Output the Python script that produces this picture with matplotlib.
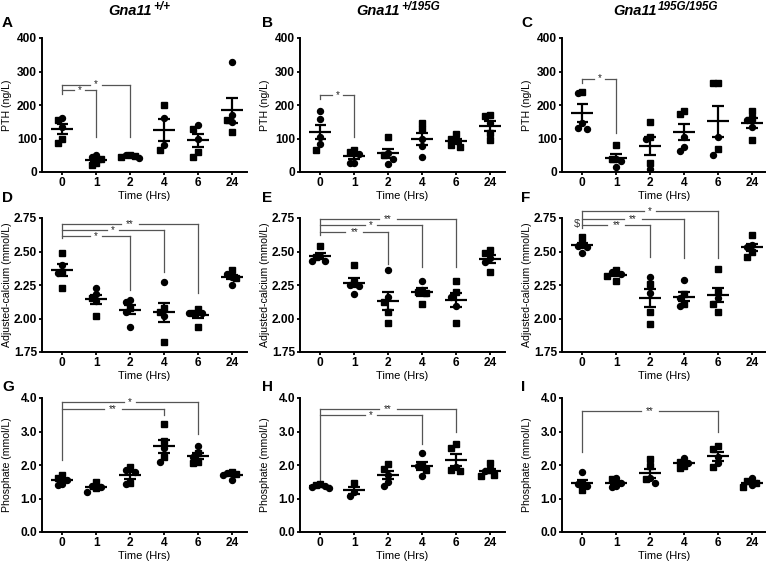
"""
Gna11 time course: PTH, adjusted calcium and phosphate after injection.
3 x 3 grid of scatter plots with mean +/- SEM (GraphPad style).
"""

import numpy as np
import matplotlib
matplotlib.use("Agg")
import matplotlib.pyplot as plt

plt.rcParams['font.family'] = ['Liberation Sans', 'DejaVu Sans']

# ── Data ──────────────────────────────────────────────────────────────────────
TIMES = ["0", "1", "2", "4", "6", "24"]
GENOTYPES = ["+/+", "+/195G", "195G/195G"]

# PTH (ng/L); squares and circles per time point
PTH_WT_SQ = [[155, 100, 87], [40, 28, 20], [50, 48, 44], [200, 65], [128, 60, 45], [155, 120]]
PTH_WT_CI = [[162, 135], [52, 45], [50, 43], [160, 80], [140, 100], [327, 170, 148]]
PTH_HET_SQ = [[67], [65, 60], [105, 50], [147, 128], [112, 100, 80, 75], [170, 168, 115, 95]]
PTH_HET_CI = [[181, 158, 105, 85], [55, 28, 27], [58, 40, 25], [100, 78, 45], [92], [145]]
PTH_HOM_SQ = [[240], [82, 38], [148, 105, 28], [182, 172], [265, 265, 68], [182, 162, 95]]
PTH_HOM_CI = [[237, 145, 130, 128], [40, 33, 14], [100, 8], [105, 75, 62], [105, 52], [155, 135]]

# Adjusted calcium (mmol/L)
CA_WT_SQ = [[2.49, 2.35, 2.23], [2.15, 2.02], [2.08], [2.075, 2.05, 1.825], [2.07, 2.04, 1.94], [2.36, 2.30]]
CA_WT_CI = [[2.40, 2.34], [2.23, 2.18, 2.13], [2.14, 2.12, 2.05, 1.94], [2.27, 2.02], [2.04, 2.04], [2.33, 2.31, 2.25]]
CA_HET_SQ = [[2.54, 2.46], [2.40, 2.27], [2.12, 2.05, 1.97], [2.20, 2.19, 2.11], [2.28, 2.20, 1.97], [2.51, 2.49, 2.35]]
CA_HET_CI = [[2.47, 2.43, 2.43], [2.25, 2.24, 2.18], [2.36, 2.16], [2.28, 2.21], [2.16, 2.09], [2.45, 2.42]]
CA_HOM_SQ = [[2.61, 2.56], [2.36, 2.32, 2.28], [2.26, 2.05, 1.96], [2.18, 2.11], [2.37, 2.20, 2.11, 2.05], [2.62, 2.50, 2.46]]
CA_HOM_CI = [[2.54, 2.53, 2.49], [2.35, 2.33], [2.31, 2.19], [2.29, 2.15, 2.09], [2.15], [2.55, 2.53]]

# Phosphate (mmol/L)
PI_WT_SQ = [[1.70, 1.62], [1.49, 1.30], [1.94, 1.45], [3.22, 2.72, 2.25], [2.35, 2.10, 2.06], [1.78, 1.74]]
PI_WT_CI = [[1.55, 1.42, 1.40], [1.38, 1.35, 1.20], [1.85, 1.80, 1.42], [2.50, 2.10], [2.58, 2.25], [1.76, 1.70, 1.55]]
PI_HET_SQ = [[1.42, 1.40], [1.45], [2.02, 1.88], [2.00, 1.85], [2.64, 2.51, 1.85, 1.82], [2.07, 1.85, 1.70, 1.68]]
PI_HET_CI = [[1.38, 1.33, 1.32], [1.20, 1.08], [1.70, 1.50, 1.36], [2.35, 1.98, 1.68], [1.95], [1.82]]
PI_HOM_SQ = [[1.45, 1.24], [1.58], [2.17, 1.96, 1.59], [2.10, 1.98, 1.92], [2.58, 2.47, 1.93], [1.52, 1.45, 1.35]]
PI_HOM_CI = [[1.79, 1.44, 1.38], [1.60, 1.45, 1.36, 1.34], [1.62, 1.45], [2.21, 2.05], [2.25, 2.05], [1.61, 1.40]]

# Significance brackets: (from idx, to idx, level, right drop to, label)
BR_A = [(0, 1, 244, 104, '*'), (0, 2, 261, 104, '*')]
BR_B = [(0, 1, 231, 105, '*')]
BR_C = [(0, 1, 279, 116, '*')]
BR_D = [(0, 2, 2.612, 2.213, '*'), (0, 3, 2.657, 2.35, '*'), (0, 4, 2.707, 2.19, '**')]
BR_E = [(0, 2, 2.645, 2.41, '**'), (0, 3, 2.695, 2.387, '*'), (0, 4, 2.745, 2.387, '**')]
BR_F = [(0, 2, 2.695, 2.462, '**'), (0, 3, 2.742, 2.45, '**'), (0, 4, 2.80, 2.45, '*')]
BR_G = [(0, 3, 3.68, 3.48, '**'), (0, 4, 3.88, 2.94, '*')]
BR_H = [(0, 3, 3.49, 2.64, '*'), (0, 4, 3.68, 2.99, '**')]
BR_I = [(0, 4, 3.60, 2.985, '**')]
# bottom of the shared left leg of the brackets
LEFT_LEG = {"A": 233, "B": 218, "C": 266, "D": 2.60, "E": 2.625, "F": 2.675,
            "G": 2.14, "H": 1.55, "I": 2.39}

# ── Layout ────────────────────────────────────────────────────────────────────
W, H = 766, 563
COL_LEFT = [42, 300, 562]
COL_WIDTH = 205
ROW_TOP = [38, 218, 398]
ROW_HEIGHT = 134

ROWS = [
    dict(ylabel="PTH (ng/L)", ylim=(0, 400), yticks=[0, 100, 200, 300, 400], fmt="{:.0f}"),
    dict(ylabel="Adjusted-calcium (mmol/L)", ylim=(1.75, 2.75),
         yticks=[1.75, 2.00, 2.25, 2.50, 2.75], fmt="{:.2f}"),
    dict(ylabel="Phosphate (mmol/L)", ylim=(0, 4), yticks=[0, 1, 2, 3, 4], fmt="{:.1f}"),
]

PANELS = [
    ("A", 0, 0, PTH_WT_SQ, PTH_WT_CI, BR_A), ("B", 0, 1, PTH_HET_SQ, PTH_HET_CI, BR_B),
    ("C", 0, 2, PTH_HOM_SQ, PTH_HOM_CI, BR_C), ("D", 1, 0, CA_WT_SQ, CA_WT_CI, BR_D),
    ("E", 1, 1, CA_HET_SQ, CA_HET_CI, BR_E), ("F", 1, 2, CA_HOM_SQ, CA_HOM_CI, BR_F),
    ("G", 2, 0, PI_WT_SQ, PI_WT_CI, BR_G), ("H", 2, 1, PI_HET_SQ, PI_HET_CI, BR_H),
    ("I", 2, 2, PI_HOM_SQ, PI_HOM_CI, BR_I),
]

BRACKET_COLOR = '#555555'


def swarm_offsets(vals, thresh, step=0.13):
    """Simple beeswarm: spread close values sideways."""
    vals = np.asarray(vals, dtype=float)
    offs = np.zeros(len(vals))
    placed = []
    cands = [0, -step, step, -2 * step, 2 * step]
    for i in np.argsort(-vals):
        for c in cands:
            if all(abs(vals[i] - v) > thresh or abs(c - o) > step * 0.9 for v, o in placed):
                offs[i] = c
                break
        placed.append((vals[i], offs[i]))
    return offs


def draw_bracket(ax, i0, i1, y, ydrop, label):
    mid = (i0 + i1) / 2
    gap = 0.17 if len(label) == 1 else 0.26
    kw = dict(color=BRACKET_COLOR, lw=0.9, clip_on=False)
    ax.plot([i0, mid - gap], [y, y], **kw)
    ax.plot([mid + gap, i1], [y, y], **kw)
    ax.plot([i1, i1], [y, ydrop], **kw)
    ax.text(mid, y, label, ha='center', va='center', fontsize=7, color='#222222')


def draw_panel(ax, letter, row, sq, ci, brackets):
    cfg = ROWS[row]
    lo, hi = cfg["ylim"]
    thresh = 0.045 * (hi - lo)
    for i in range(len(TIMES)):
        vals = list(sq[i]) + list(ci[i])
        offs = swarm_offsets(vals, thresh)
        n_sq = len(sq[i])
        ax.plot(i + offs[:n_sq], sq[i], 's', color='black', ms=4.0, clip_on=False, zorder=3)
        ax.plot(i + offs[n_sq:], ci[i], 'o', color='black', ms=4.3, clip_on=False, zorder=3)
        m = np.mean(vals)
        sem = np.std(vals, ddof=1) / np.sqrt(len(vals))
        ax.hlines(m, i - 0.32, i + 0.32, color='black', lw=1.6, zorder=4)
        ax.vlines(i, m - sem, m + sem, color='black', lw=1.6, zorder=4)
        ax.hlines([m - sem, m + sem], i - 0.17, i + 0.17, color='black', lw=1.6, zorder=4)

    for br in brackets:
        draw_bracket(ax, *br)
    if brackets:
        top = max(b[2] for b in brackets)
        ax.plot([0, 0], [top, LEFT_LEG[letter]], color=BRACKET_COLOR, lw=0.9, clip_on=False)
    if letter == "F":
        ax.text(-0.15, 2.707, "$", ha='center', va='center', fontsize=8, color='#333333')

    ax.set_xlim(-0.6, 5.45)
    ax.set_ylim(lo, hi)
    ax.set_xticks(range(len(TIMES)))
    ax.set_xticklabels(TIMES)
    ax.set_yticks(cfg["yticks"])
    ax.set_yticklabels([cfg["fmt"].format(v) for v in cfg["yticks"]])
    for lab in ax.get_xticklabels() + ax.get_yticklabels():
        lab.set_fontweight('bold')
        lab.set_fontsize(8.6)
    ax.tick_params(direction='out', length=2.5, width=1.3, pad=1)
    ax.spines['top'].set_visible(False)
    ax.spines['right'].set_visible(False)
    for s in ('left', 'bottom'):
        ax.spines[s].set_linewidth(1.4)
    ax.set_ylabel(cfg["ylabel"], fontsize=7.6)
    # right edge of the y label sits ~30 px left of the axis
    ax.yaxis.set_label_coords(-30 / COL_WIDTH, 0.5)
    ax.set_xlabel("Time (Hrs)", fontsize=8, labelpad=1.5)


fig = plt.figure(figsize=(W / 100, H / 100), dpi=100)

for letter, row, col, sq, ci, brackets in PANELS:
    rect = [COL_LEFT[col] / W, 1 - (ROW_TOP[row] + ROW_HEIGHT) / H,
            COL_WIDTH / W, ROW_HEIGHT / H]
    ax = fig.add_axes(rect)
    draw_panel(ax, letter, row, sq, ci, brackets)
    # panel letter
    letter_x = [2, 262, 521][col]
    letter_y = [27, 202, 391][row]
    fig.text(letter_x / W, 1 - letter_y / H, letter, fontsize=11, fontweight='bold',
             ha='left', va='baseline')

# column titles: Gna11 with superscript genotype
for col, geno in enumerate(GENOTYPES):
    right_px = [152, 400, 657][col]
    fig.text(right_px / W, 1 - 15 / H, "Gna11", fontsize=10.5, fontweight='bold',
             style='italic', ha='right', va='baseline')
    fig.text((right_px + 1) / W, 1 - 10 / H, geno, fontsize=8.5, fontweight='bold',
             style='italic', ha='left', va='baseline')

plt.savefig("out.png", dpi=100)
